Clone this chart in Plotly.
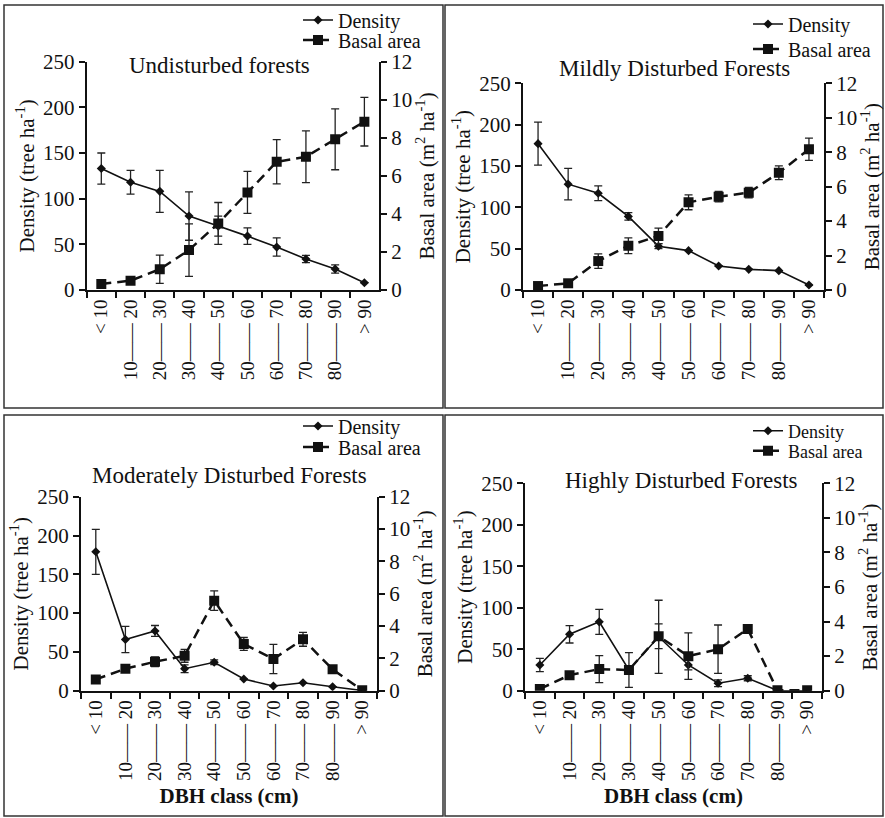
import plotly.graph_objects as go

W, H = 885, 818
FONT = "Liberation Serif"

categories = ["< 10", "10—— 20", "20—— 30", "30—— 40", "40—— 50",
              "50—— 60", "60—— 70", "70—— 80", "80—— 90", "> 90"]

titles = ["Undisturbed forests", "Mildly Disturbed Forests",
          "Moderately Disturbed Forests", "Highly Disturbed Forests"]

# Undisturbed
den_1 = [133, 118, 108, 81, 70, 59, 47, 34, 23, 8]
den_err_1 = [17, 13, 23, 26.5, 11, 9, 10, 4, 4.5, 0]
ba_1 = [0.32, 0.49, 1.09, 2.1, 3.5, 5.13, 6.74, 7.0, 7.92, 8.85]
ba_err_1 = [0, 0, 0.74, 1.38, 1.1, 1.1, 1.16, 1.36, 1.6, 1.28]

# Mildly disturbed
den_2 = [177, 128, 117, 89, 53, 47.6, 29, 25, 23.4, 6]
den_err_2 = [26, 19, 9, 4.5, 3, 0, 0, 0, 0, 0]
ba_2 = [0.23, 0.39, 1.68, 2.57, 3.14, 5.09, 5.42, 5.65, 6.81, 8.17]
ba_err_2 = [0, 0, 0.42, 0.46, 0.45, 0.43, 0.3, 0.3, 0.4, 0.65]

# Moderately disturbed
den_3 = [179, 66, 77, 28.4, 36.6, 15, 6, 10.3, 5, 0.3]
den_err_3 = [29, 17, 7, 5, 3, 0, 0, 0, 0, 0]
ba_3 = [0.7, 1.36, 1.79, 2.16, 5.57, 2.89, 1.96, 3.18, 1.32, 0.03]
ba_err_3 = [0, 0, 0.3, 0.4, 0.6, 0.4, 0.9, 0.43, 0, 0]

# Highly disturbed
den_4 = [31, 68, 83, 25, 65, 31, 9, 15, 0.3, 0]
den_err_4 = [8, 10.5, 15, 21, 44, 6, 4, 3, 0, 0]
ba_4 = [0.1, 0.9, 1.25, 1.2, 3.15, 2.0, 2.4, 3.57, 0.02, 0.02]
ba_err_4 = [0, 0, 0.78, 0, 0.72, 1.35, 1.4, 0.2, 0, 0]

den_all = [den_1, den_2, den_3, den_4]
den_err_all = [den_err_1, den_err_2, den_err_3, den_err_4]
ba_all = [ba_1, ba_2, ba_3, ba_4]
ba_err_all = [ba_err_1, ba_err_2, ba_err_3, ba_err_4]

# panel geometry in pixels: (x_left, x_right, y_top, y_bottom)
plots = [(86.7, 379, 61.7, 290), (523, 824, 83.3, 290),
         (81, 377, 496.7, 690.7), (525, 822, 483.3, 690.7)]
boxes = [(4, 443, 5, 408), (445, 883, 5, 408), (4, 443, 415, 816), (445, 883, 415, 816)]
title_pos = [(219, 65), (674, 69), (229, 475), (681, 480)]
# legend: text start x, y of Density entry, y of Basal entry, font size
legend_pos = [(340, 20, 40, 20), (790, 24, 49, 20), (340, 426, 447, 20), (790, 431, 451, 18)]

fig = go.Figure()
layout = dict(width=W, height=H, margin=dict(l=0, r=0, t=0, b=0, autoexpand=False),
              paper_bgcolor="white", plot_bgcolor="white",
              font=dict(family=FONT, size=18, color="#111"), shapes=[], annotations=[])

for i in range(4):
    n = i + 1
    xa = "x" if n == 1 else f"x{n}"
    ya_l = f"y{2*n-1}" if n > 1 else "y"
    ya_r = f"y{2*n}"
    leg_d = "legend" if n == 1 else f"legend{2*n-1}"
    leg_b = f"legend{2*n}"
    fig.add_trace(go.Scatter(
        x=categories, y=den_all[i], mode="lines+markers", name="Density",
        xaxis=xa, yaxis=ya_l, legend=leg_d,
        line=dict(color="#111", width=1.6),
        marker=dict(symbol="diamond", size=7, color="#111"),
        error_y=dict(type="data", array=den_err_all[i], visible=True,
                     color="#222", thickness=1.3, width=4)))
    fig.add_trace(go.Scatter(
        x=categories, y=ba_all[i], mode="lines+markers", name="Basal area",
        xaxis=xa, yaxis=ya_r, legend=leg_b,
        line=dict(color="#111", width=2.5, dash="10px,6px"),
        marker=dict(symbol="square", size=10, color="#111"),
        error_y=dict(type="data", array=ba_err_all[i], visible=True,
                     color="#222", thickness=1.3, width=4)))

    xl, xr, yt, yb = plots[i]
    xdom = [xl / W, xr / W]
    ydom = [1 - yb / H, 1 - yt / H]
    xkey = "xaxis" if n == 1 else f"xaxis{n}"
    ylkey = "yaxis" if n == 1 else f"yaxis{2*n-1}"
    yrkey = f"yaxis{2*n}"
    ylname = ya_l
    layout[xkey] = dict(
        domain=xdom, anchor=ylname, type="category", range=[-0.5, 9.5], automargin=False,
        tickson="boundaries", ticks="outside", ticklen=6, tickwidth=1.5, tickcolor="#111",
        showline=True, linecolor="#111", linewidth=2, tickangle=-90,
        tickfont=dict(family=FONT, size=19, color="#111"), showgrid=False, zeroline=False,
        title=dict(text="<b>DBH class (cm)</b>" if n >= 3 else "",
                   font=dict(family=FONT, size=21, color="#111"), standoff=8))
    layout[ylkey] = dict(
        domain=ydom, anchor=xa, range=[0, 250], dtick=50, ticks="outside", ticklen=6,
        automargin=False,
        tickwidth=1.5, tickcolor="#111", showline=True, linecolor="#111", linewidth=2,
        showgrid=False, zeroline=False, tickfont=dict(family=FONT, size=21, color="#111"),
        title=dict(text="Density (tree ha<sup>-1</sup>)", font=dict(family=FONT, size=21, color="#111"),
                   standoff=3))
    layout[yrkey] = dict(
        domain=ydom, anchor=xa, overlaying=ylname, side="right", range=[0, 12], dtick=2,
        automargin=False,
        ticks="outside", ticklen=6, tickwidth=1.5, tickcolor="#111", showline=True,
        linecolor="#111", linewidth=2, showgrid=False, zeroline=False,
        tickfont=dict(family=FONT, size=21, color="#111"),
        title=dict(text="Basal area (m<sup>2</sup> ha<sup>-1</sup>)",
                   font=dict(family=FONT, size=21, color="#111"), standoff=3))

    bx0, bx1, by0, by1 = boxes[i]
    layout["shapes"].append(dict(type="rect", xref="paper", yref="paper",
                                 x0=bx0 / W, x1=bx1 / W, y0=1 - by1 / H, y1=1 - by0 / H,
                                 line=dict(color="#333", width=1.5), fillcolor="rgba(0,0,0,0)"))
    tx, ty = title_pos[i]
    layout["annotations"].append(dict(text=titles[i], xref="paper", yref="paper",
                                      x=tx / W, y=1 - ty / H, xanchor="center", yanchor="middle",
                                      showarrow=False, font=dict(family=FONT, size=23, color="#111")))
    lx, ly_d, ly_b, lfs = legend_pos[i]
    for key, ly in ((leg_d, ly_d), (leg_b, ly_b)):
        layout[key] = dict(x=(lx - 42) / W, y=1 - ly / H, xanchor="left", yanchor="middle",
                           bgcolor="rgba(0,0,0,0)", borderwidth=0,
                           font=dict(family=FONT, size=lfs, color="#111"))

fig.update_layout(**layout)
fig.update_layout(showlegend=True)
fig.write_html("out.html")
